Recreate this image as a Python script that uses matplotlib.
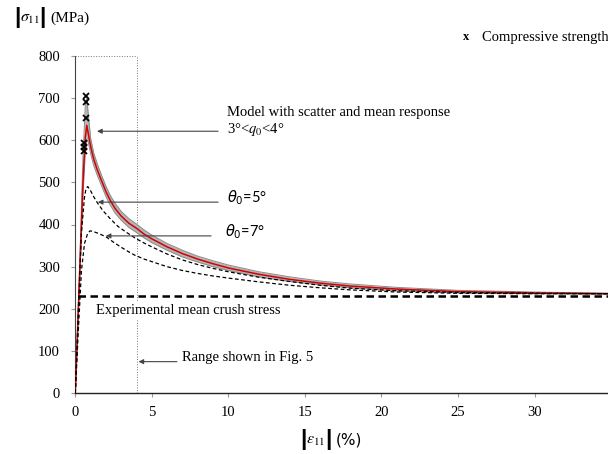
import matplotlib
matplotlib.use("Agg")
import matplotlib.pyplot as plt

plt.rcParams['font.family'] = ['Liberation Serif', 'DejaVu Serif']
plt.rcParams['mathtext.fontset'] = 'stix'

# ---- data (strain %, stress MPa) ----
mean_x = [0, 0.3, 0.5, 0.65, 0.75, 0.85, 1.0, 1.2, 1.45, 1.7, 2.0, 2.3, 2.6, 3.0, 3.5, 4, 4.5, 5, 6, 7, 8, 9, 10,
          12, 14, 16, 18, 21, 25, 30, 35]
mean_y = [0, 300, 500, 605, 635, 615, 585, 555, 528, 505, 478, 456, 438, 420, 403, 391, 377, 366, 347, 331, 318,
          307, 297, 282, 270, 261, 254, 247, 241, 238, 236]
band_upper = [0, 320, 560, 680, 700, 660, 605, 570, 542, 518, 491, 468, 450, 431, 414, 401, 387, 375, 355, 339,
              325, 314, 304, 288, 276, 266, 259, 251, 244, 240, 237]
band_lower = [0, 280, 470, 570, 600, 595, 568, 540, 515, 493, 466, 445, 427, 410, 393, 381, 368, 357, 339, 323,
              311, 300, 291, 276, 265, 257, 250, 243, 238, 236, 235]

t5_x = [0, 0.2, 0.4, 0.6, 0.7, 0.81, 1.0, 1.2, 1.45, 1.8, 2.3, 2.8, 3.4, 3.9, 4.5, 5, 6, 7, 8, 9, 10, 12, 14, 16,
        18, 21, 25, 30, 35]
t5_y = [0, 200, 380, 465, 485, 490, 480, 466, 451, 433, 413, 395, 380, 368, 356, 347, 330, 316, 305, 296, 288,
        275, 265, 256, 249, 243, 239, 237, 236]

t7_x = [0, 0.2, 0.4, 0.6, 0.8, 0.96, 1.2, 1.5, 2.0, 2.5, 3.0, 3.5, 3.9, 4.5, 5, 6, 7, 8, 9, 10, 12, 14, 16, 18,
        21, 25, 30, 35]
t7_y = [0, 150, 290, 355, 378, 385, 383, 379, 371, 358, 346, 335, 327, 318, 312, 300, 291, 284, 278, 273, 264,
        256, 250, 245, 240, 237, 236, 236]

cs_x = [0.7, 0.72, 0.68, 0.55, 0.55, 0.56]
cs_y = [704, 690, 652, 594, 584, 574]

exp_mean = 231
range_fig5 = 4.0

xticks = [0, 5, 10, 15, 20, 25, 30]
yticks = [0, 100, 200, 300, 400, 500, 600, 700, 800]

W, H = 608, 454
fig = plt.figure(figsize=(W / 100, H / 100), dpi=100)
ax = fig.add_axes([75.3 / W, 1 - 393.3 / H, 1 - 75.3 / W, (393.3 - 55.7) / H])
ax.set_xlim(0, 34.8)
ax.set_ylim(0, 800)

# range rectangle
ax.plot([range_fig5, range_fig5], [0, 800], ls=':', color='#777777', lw=0.7, zorder=1)
ax.plot([0, range_fig5], [800, 800], ls=':', color='#777777', lw=0.7, zorder=1)

# band
ax.fill_between(mean_x, band_lower, band_upper, color='#b5b5b5', lw=0, zorder=2)
ax.plot(mean_x, band_upper, color='#8a8a8a', lw=0.7, zorder=2)
ax.plot(mean_x, band_lower, color='#8a8a8a', lw=0.7, zorder=2)
ax.plot(mean_x, mean_y, color='#d40000', lw=1.1, zorder=3)

ax.plot(t5_x, t5_y, color='black', lw=0.9, ls=(0, (3, 2)), zorder=3)
ax.plot(t7_x, t7_y, color='black', lw=0.9, ls=(0, (3, 2)), zorder=3)

ax.plot([0.15, 35], [exp_mean, exp_mean], color='black', lw=1.8, ls=(0, (3, 1.8)), zorder=3)

ax.plot(cs_x, cs_y, ls='none', marker='x', color='black', ms=4, mew=1.3, zorder=4)

for s in ['top', 'right']:
    ax.spines[s].set_visible(False)
ax.spines['left'].set_color('#444444')
ax.spines['bottom'].set_color('#222222')
ax.spines['bottom'].set_linewidth(1.0)
ax.set_xticks(xticks)
ax.set_yticks(yticks)
ax.tick_params(axis='both', direction='out', length=3, color='#999999', labelsize=10.5)
ax.tick_params(axis='y', pad=8)
ax.tick_params(axis='x', pad=6)

arrow = dict(arrowstyle='-|>', color='#444444', lw=0.8, mutation_scale=7, shrinkA=0, shrinkB=0)
fs = 10.5

ax.text(9.92, 665, 'Model with scatter and mean response', fontsize=fs, va='center', ha='left')
ax.text(9.92, 624, '3°<$q_0$<4°', fontsize=fs, va='center', ha='left')
ax.annotate('', xy=(1.42, 621), xytext=(9.33, 621), arrowprops=arrow)

ax.text(9.92, 463, r'$\theta_0$=5°', fontsize=fs, va='center', ha='left', family='Lato',
        math_fontfamily='dejavusans')
ax.annotate('', xy=(1.47, 453), xytext=(9.33, 453), arrowprops=arrow)

ax.text(9.8, 383, r'$\theta_0$=7°', fontsize=fs, va='center', ha='left', family='Lato',
        math_fontfamily='dejavusans')
ax.annotate('', xy=(1.99, 373), xytext=(8.87, 373), arrowprops=arrow)

ax.text(1.36, 197, 'Experimental mean crush stress', fontsize=fs, va='center', ha='left',
        bbox=dict(facecolor='white', edgecolor='none', pad=1.5), zorder=5)

ax.text(6.97, 86, 'Range shown in Fig. 5', fontsize=fs, va='center', ha='left')
ax.annotate('', xy=(4.13, 75), xytext=(6.64, 75), arrowprops=arrow)

fig.text(463 / W, 1 - 37 / H, 'x', fontsize=9, fontweight='bold', va='center', ha='left')
fig.text(481.7 / W, 1 - 37 / H, 'Compressive strength', fontsize=fs, va='center', ha='left')

bar_kw = dict(fontsize=16, fontweight='bold', va='center', ha='left', family='Liberation Sans')

# y label: |sigma_11| (MPa)
yl = 1 - 18 / H
fig.text(14 / W, yl, '|', **bar_kw)
fig.text(20.5 / W, yl, r'$\sigma_{11}$', fontsize=11.5, va='center', ha='left')
fig.text(39 / W, yl, '|', **bar_kw)
fig.text(50 / W, yl, '(MPa)', fontsize=11, va='center', ha='left')

# x label: |eps_11| (%)
xl = 1 - 440 / H
fig.text(300 / W, xl, '|', **bar_kw)
fig.text(306.5 / W, xl, r'$\varepsilon_{11}$', fontsize=11.5, va='center', ha='left')
fig.text(325 / W, xl, '|', **bar_kw)
fig.text(336 / W, xl, '(%)', fontsize=11, va='center', ha='left', family='DejaVu Sans')

fig.savefig('out.png', dpi=100)
